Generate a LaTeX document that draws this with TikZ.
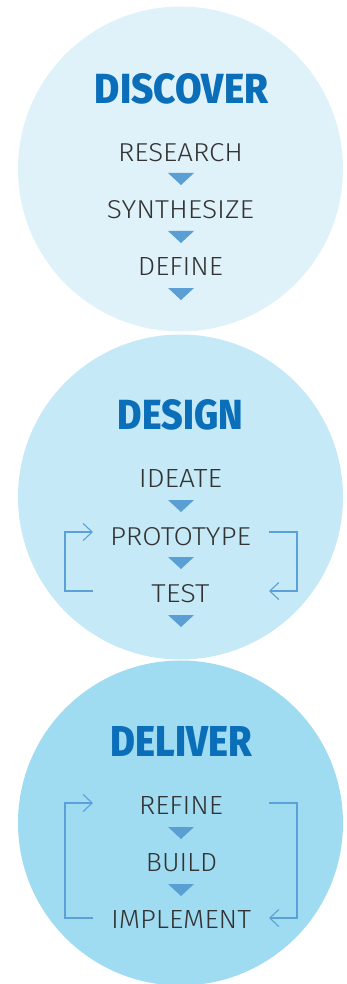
\documentclass[tikz,border=0pt]{standalone}
\usepackage{fontspec}
\setmainfont{Fira Sans}
\newfontfamily\lightfont{Fira Sans Light}
\newfontfamily\heavyfont{Fira Sans ExtraBold}
\usetikzlibrary{arrows.meta}
\definecolor{cone}{HTML}{DFF1F9}
\definecolor{ctwo}{HTML}{C5E9F6}
\definecolor{cthree}{HTML}{9FDBF1}
\definecolor{titleblue}{HTML}{0B6EB8}
\definecolor{tricol}{HTML}{5A9FD4}
\definecolor{loopcol}{HTML}{5BA0D8}
\definecolor{txtgray}{HTML}{333333}
\newcommand\mytitle[2]{\resizebox{#1pt}{30pt}{#2}}
\newcommand\mystep[2]{\resizebox{#1pt}{18pt}{#2}}
\tikzset{
  titlenode/.style={inner sep=0, anchor=south, text=titleblue, font=\heavyfont},
  stepnode/.style={inner sep=0, anchor=south, text=txtgray, font=\lightfont},
  tri/.style={fill=tricol},
  loopline/.style={draw=loopcol, line width=1.1pt},
  looparrow/.style={loopline, -{Straight Barb[length=9pt,width=17pt,line width=1.1pt]}}
}
\begin{document}
\begin{tikzpicture}[x=1pt,y=-1pt]
\useasboundingbox (0,0) rectangle (346,984);
\begin{scope}
\clip (0,0) rectangle (346,984);
\fill[cone] (180.5,169) circle[radius=162.5];
\fill[ctwo] (180.5,497) circle[radius=162.5];
\fill[cthree] (180.5,823) circle[radius=162.5];
\end{scope}
% DISCOVER
\node[titlenode] (discover) at (181.5,104) {\mytitle{173}{DISCOVER}};
\node[stepnode] (research) at (180.5,162) {\mystep{125}{RESEARCH}};
\node[stepnode] (synth) at (180.5,219) {\mystep{147}{SYNTHESIZE}};
\node[stepnode] (define) at (180.5,276) {\mystep{85}{DEFINE}};
\coordinate (ta) at (181,173);
\coordinate (tb) at (181,231);
\coordinate (tc) at (181,288);
% DESIGN
\node[titlenode] (design) at (180.5,430) {\mytitle{125}{DESIGN}};
\node[stepnode] (ideate) at (180.5,488) {\mystep{83}{IDEATE}};
\node[stepnode] (proto) at (180.5,546) {\mystep{141}{PROTOTYPE}};
\node[stepnode] (test) at (180.5,603) {\mystep{58}{TEST}};
\coordinate (td) at (181,500);
\coordinate (te) at (181,557);
\coordinate (tf) at (181,615);
% DELIVER
\node[titlenode] (deliver) at (181.5,757) {\mytitle{141}{DELIVER}};
\node[stepnode] (refine) at (181,815) {\mystep{84}{REFINE}};
\node[stepnode] (build) at (181.5,872) {\mystep{71}{BUILD}};
\node[stepnode] (implement) at (181,929) {\mystep{140}{IMPLEMENT}};
\coordinate (tg) at (181,827);
\coordinate (th) at (181,884);
% triangles
\foreach \t in {ta,tb,tc,td,te,tf,tg,th}{
  \fill[tri] (\t) ++(-13,0) -- ++(26,0) -- ++(-13,12) -- cycle;
}
% loops DESIGN
\coordinate (dlb) at (93,591);
\coordinate (dlc) at (65,532);
\coordinate (dlt) at (93,532);
\coordinate (drt) at (269,532);
\coordinate (drc) at (297,591);
\coordinate (drb) at (269,591);
\draw[looparrow] (dlb) -| (dlc) -- (dlt);
\draw[looparrow] (drt) -| (drc) -- (drb);
% loops DELIVER
\coordinate (elb) at (93,918);
\coordinate (elc) at (65,803);
\coordinate (elt) at (93,803);
\coordinate (ert) at (269,803);
\coordinate (erc) at (297,918);
\coordinate (erb) at (269,918);
\draw[looparrow] (elb) -| (elc) -- (elt);
\draw[looparrow] (ert) -| (erc) -- (erb);
\end{tikzpicture}
\end{document}
